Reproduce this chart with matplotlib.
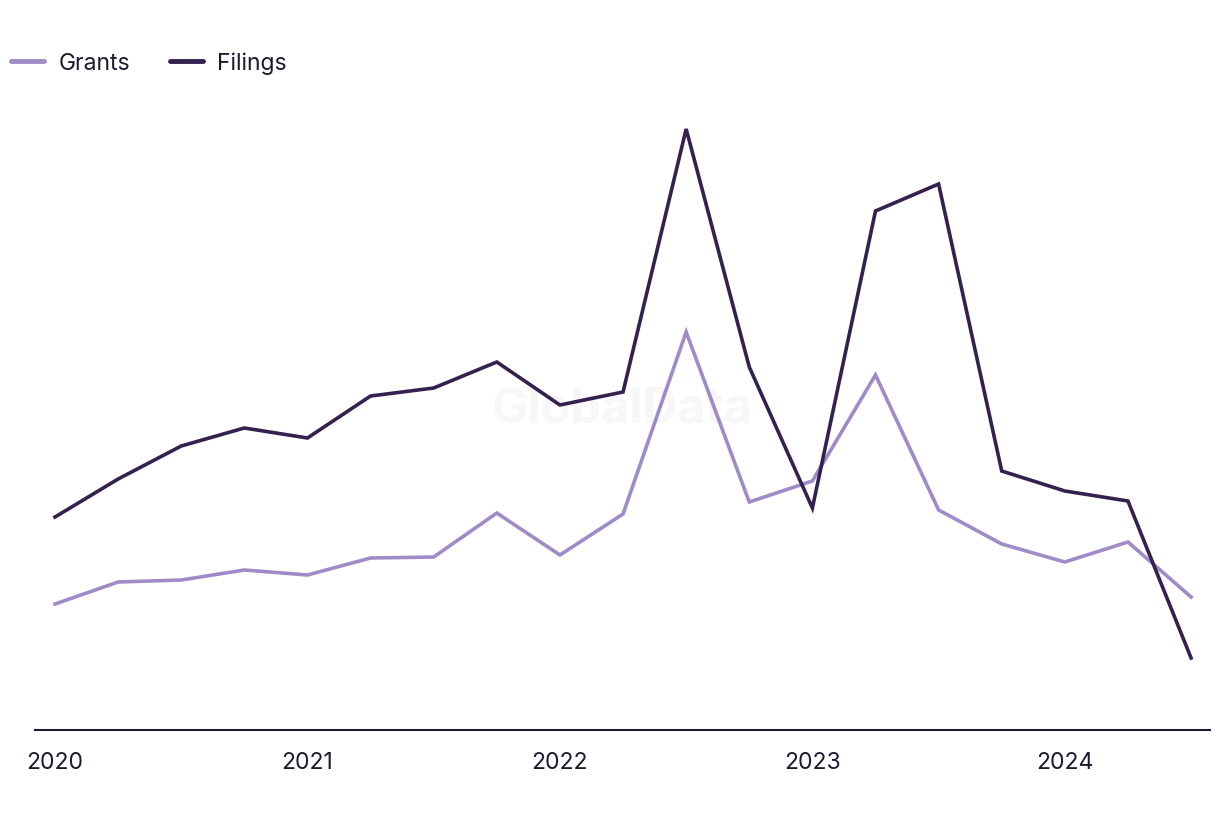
import matplotlib
matplotlib.use("Agg")
import matplotlib.pyplot as plt
from matplotlib.lines import Line2D

quarters = ["2020Q1", "2020Q2", "2020Q3", "2020Q4", "2021Q1", "2021Q2", "2021Q3", "2021Q4",
            "2022Q1", "2022Q2", "2022Q3", "2022Q4", "2023Q1", "2023Q2", "2023Q3", "2023Q4",
            "2024Q1", "2024Q2", "2024Q3"]
filings = [213, 251, 284, 302, 292, 334, 342, 368, 325, 338, 601, 363, 222, 519, 546, 259, 239, 229, 72]
grants = [126, 148, 150, 160, 155, 172, 173, 217, 175, 216, 398, 228, 249, 355, 220, 186, 168, 188, 133]
year_ticks = [0, 4, 8, 12, 16]
year_labels = ["2020", "2021", "2022", "2023", "2024"]

plt.rcParams['font.family'] = ['Inter', 'DejaVu Sans']

fig = plt.figure(figsize=(12.2, 8.2), dpi=100)
ax = fig.add_axes([35/1220, 89/820, 1175/1220, 630/820])

x = list(range(len(quarters)))
c_grants = "#a08bc9"
c_filings = "#35214f"
ax.plot(x, grants, color=c_grants, lw=2.6, solid_joinstyle='miter', zorder=3)
ax.plot(x, filings, color=c_filings, lw=2.6, solid_joinstyle='miter', zorder=4)

ax.set_xlim(-0.317, 18.30)
ax.set_ylim(0, 630)

for s in ["top", "right", "left"]:
    ax.spines[s].set_visible(False)
ax.spines["bottom"].set_color("#1b1a2e")
ax.spines["bottom"].set_linewidth(1.5)
ax.set_yticks([])
ax.set_xticks(year_ticks)
ax.set_xticklabels(year_labels, fontsize=16.5, color="#1b1a2e")
ax.tick_params(axis='x', length=0, pad=15)

ax.text(0.5, 0.51, "GlobalData", transform=ax.transAxes, ha="center", va="center",
        fontsize=35, fontweight="bold", color="#f7f7f7", zorder=1)

handles = [Line2D([], [], color=c_grants, lw=3.5, solid_capstyle='round'),
           Line2D([], [], color=c_filings, lw=3.5, solid_capstyle='round')]
fig.legend(handles, ["Grants", "Filings"], loc="upper left", bbox_to_anchor=(-0.004, 0.955),
           ncol=2, frameon=False, fontsize=16.5, handlelength=1.45, handletextpad=0.6,
           columnspacing=1.75, labelcolor="#1b1a2e", borderaxespad=0.3)

fig.savefig("out.png", dpi=100, facecolor="white")
